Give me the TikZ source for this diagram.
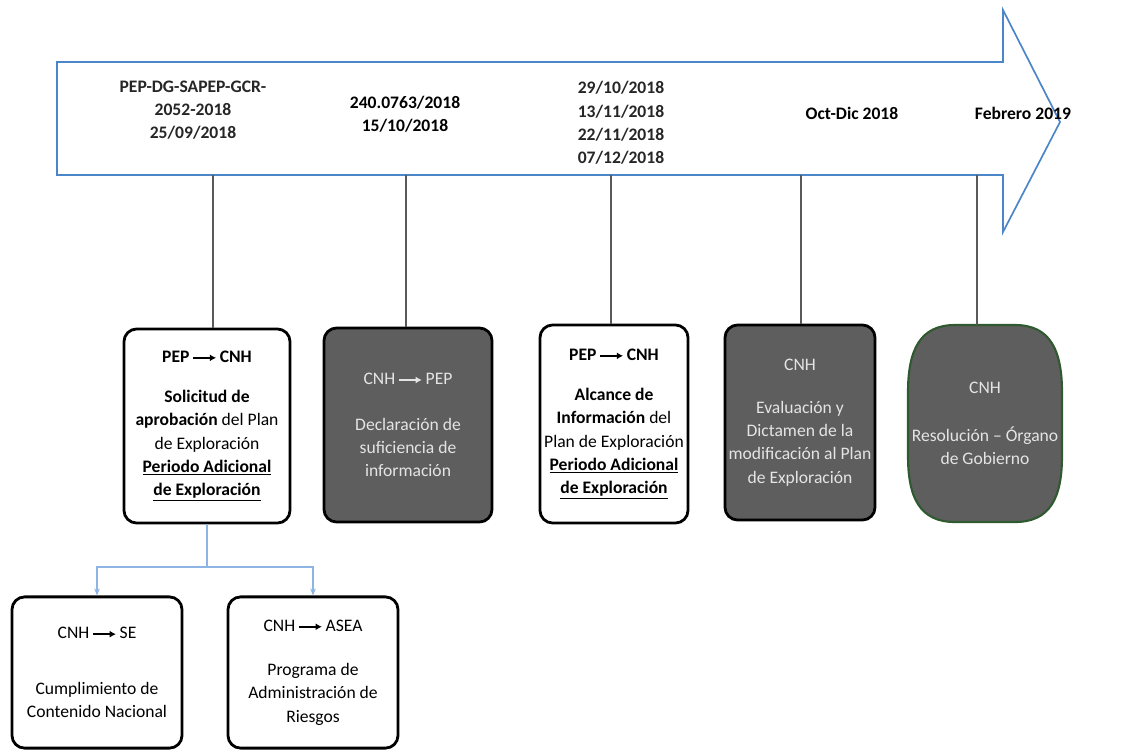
\documentclass[tikz,border=0pt]{standalone}
\usepackage{fontspec}
\setmainfont{Carlito}
\usetikzlibrary{arrows.meta}

\definecolor{timeblue}{HTML}{4A86C8}
\definecolor{stagegray}{HTML}{5E5E5E}
\definecolor{stagetext}{HTML}{E4E4E4}
\definecolor{branchblue}{HTML}{8DB4E2}
\definecolor{govgreen}{HTML}{2F5A2F}

% small arrow used inside the boxes
\newcommand{\sendto}{\,\tikz[baseline=-0.55ex]\draw[line width=1.2pt,-{Latex[length=4.5pt,width=5pt]}] (0,0) -- (1.3em,0);\,}

\begin{document}
\begin{tikzpicture}[x=0.025cm,y=-0.025cm,
    every node/.style={font=\fontsize{12.5}{16.5}\selectfont},
    stage/.style={draw=black,line width=2pt,rounded corners=9pt,fill=white,align=center,inner sep=2pt},
    darkstage/.style={stage,fill=stagegray,text=stagetext},
    datelabel/.style={align=center,font=\fontsize{12.5}{16.5}\selectfont\bfseries,text=black!85},
    tick/.style={draw=black!65,line width=1pt},
    branch/.style={draw=branchblue,line width=0.9pt,-{Stealth[length=5pt,width=4pt]}}]

\useasboundingbox (0,0) rectangle (1132,752);

% Timeline arrow
\draw[timeblue,line width=1.2pt,fill=white]
    (57,62) -- (1003,62) -- (1003,10) -- (1060,122) -- (1003,232) -- (1003,175) -- (57,175) -- cycle;

% Dates on the timeline
\node[datelabel] (d1) at (193,110) {PEP-DG-SAPEP-GCR-\\2052-2018\\25/09/2018};
\node[datelabel,text=black] (d2) at (405,114) {240.0763/2018\\15/10/2018};
\node[datelabel] (d3) at (621,123) {29/10/2018\\13/11/2018\\22/11/2018\\07/12/2018};
\node[datelabel,text=black] (d4) at (852,113) {Oct-Dic 2018};
\node[datelabel,text=black] (d5) at (1023,113) {Febrero 2019};

\coordinate (t1) at (213,175);
\coordinate (t2) at (406,175);
\coordinate (t3) at (611,175);
\coordinate (t4) at (801,175);
\coordinate (t5) at (977,175);

% Stages
\node[stage,minimum width=4.15cm,minimum height=4.85cm] (s1) at (207,426)
    {\textbf{PEP\sendto CNH}\\[12pt]
     \textbf{Solicitud de}\\
     \textbf{aprobación} del Plan\\
     de Exploración\\
     \textbf{\underline{Periodo Adicional}}\\
     \textbf{\underline{de Exploración}}};

\node[darkstage,minimum width=4.2cm,minimum height=4.85cm] (s2) at (408,425)
    {CNH\sendto PEP\\[16pt]
     Declaración de\\
     suficiencia de\\
     información};

\node[stage,minimum width=3.7cm,minimum height=4.95cm] (s3) at (614,424)
    {\textbf{PEP\sendto CNH}\\[12pt]
     \textbf{Alcance de}\\
     \textbf{Información} del\\
     Plan de Exploración\\
     \textbf{\underline{Periodo Adicional}}\\
     \textbf{\underline{de Exploración}}};

\node[darkstage,minimum width=3.75cm,minimum height=4.875cm] (s4) at (800,422.5)
    {CNH\\[14pt]
     Evaluación y\\
     Dictamen de la\\
     modificación al Plan\\
     de Exploración};

% Government resolution (barrel shape)
\draw[govgreen,line width=1.5pt,fill=stagegray]
    (955,325) -- (1015,325) .. controls (1050,325) and (1062,350) .. (1062,392)
    -- (1062,456) .. controls (1062,498) and (1050,522) .. (1015,522)
    -- (955,522) .. controls (920,522) and (908,498) .. (908,456)
    -- (908,392) .. controls (908,350) and (920,325) .. (955,325) -- cycle;
\node[align=center,text=stagetext,minimum height=4.925cm] (s5) at (985,423.5)
    {CNH\\[17pt]
     Resolución -- Órgano\\
     de Gobierno};

% Timeline ticks
\draw[tick] (t1) -- (t1 |- s1.north);
\draw[tick] (t2) -- (t2 |- s2.north);
\draw[tick] (t3) -- (t3 |- s3.north);
\draw[tick] (t4) -- (t4 |- s4.north);
\draw[tick] (t5) -- (t5 |- s5.north);

% Follow-up requests
\node[stage,minimum width=4.25cm,minimum height=3.78cm] (sA) at (97,672.5)
    {CNH\sendto SE\\[23pt]
     Cumplimiento de\\
     Contenido Nacional};
\node[stage,minimum width=4.25cm,minimum height=3.78cm] (sB) at (313,672.5)
    {CNH\sendto ASEA\\[15pt]
     Programa de\\
     Administración de\\
     Riesgos};

\coordinate (split) at (s1.south |- 0,567);
\draw[draw=branchblue,line width=0.9pt] (s1.south) -- (split);
\draw[branch] (split) -| (sA.north);
\draw[branch] (split) -| (sB.north);

\end{tikzpicture}
\end{document}
